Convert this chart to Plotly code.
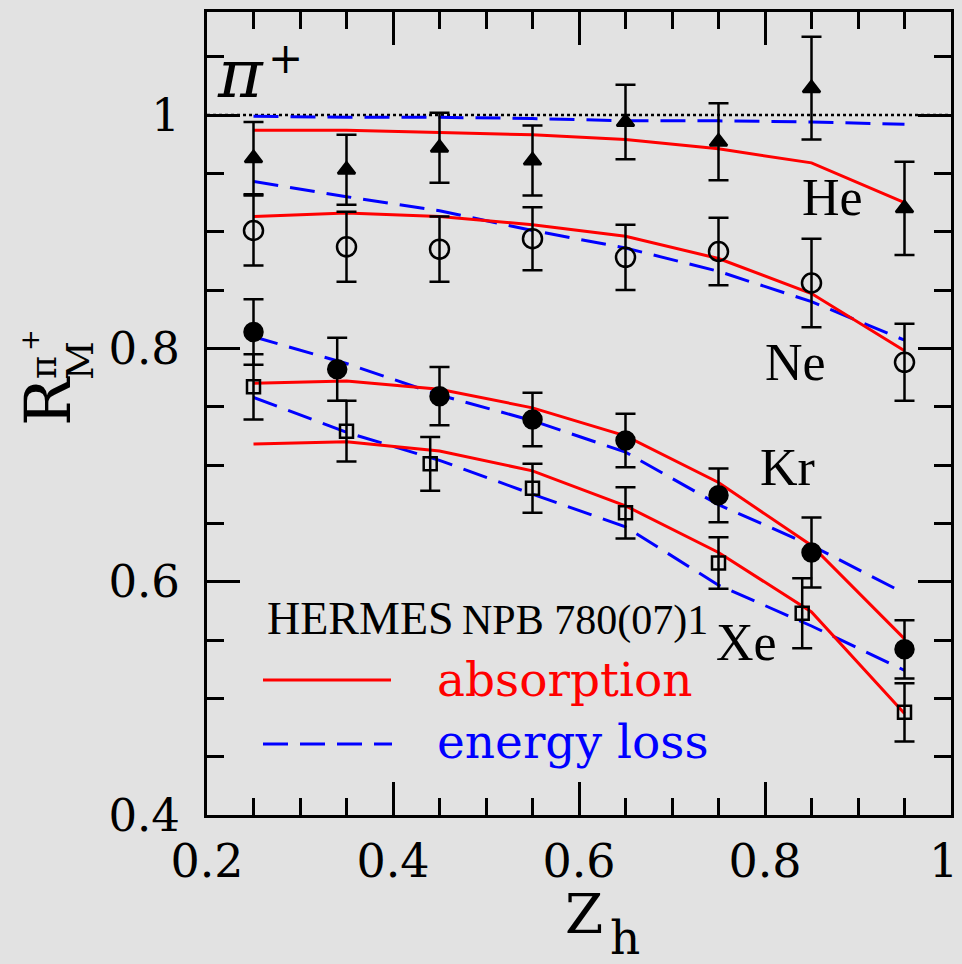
import plotly.graph_objects as go

# ---------------- data ----------------
z_model = [0.25, 0.35, 0.45, 0.55, 0.65, 0.75, 0.85, 0.95]

z_he = [0.25, 0.35, 0.45, 0.55, 0.65, 0.75, 0.85, 0.95]
r_he = [0.963, 0.953, 0.972, 0.961, 0.994, 0.977, 1.023, 0.920]
e_he = [0.031, 0.030, 0.030, 0.030, 0.032, 0.033, 0.044, 0.040]

z_ne = [0.25, 0.35, 0.45, 0.55, 0.65, 0.75, 0.85, 0.95]
r_ne = [0.901, 0.887, 0.885, 0.894, 0.878, 0.883, 0.856, 0.788]
e_ne = [0.030, 0.030, 0.028, 0.027, 0.028, 0.029, 0.038, 0.033]

z_kr = [0.25, 0.34, 0.45, 0.55, 0.65, 0.75, 0.85, 0.95]
r_kr = [0.814, 0.782, 0.759, 0.739, 0.721, 0.674, 0.625, 0.542]
e_kr = [0.028, 0.027, 0.025, 0.023, 0.023, 0.023, 0.030, 0.025]

z_xe = [0.25, 0.35, 0.44, 0.55, 0.65, 0.75, 0.84, 0.95]
r_xe = [0.767, 0.729, 0.701, 0.680, 0.659, 0.616, 0.573, 0.488]
e_xe = [0.028, 0.026, 0.023, 0.021, 0.022, 0.022, 0.030, 0.025]

he_abs = [0.987, 0.987, 0.985, 0.983, 0.979, 0.971, 0.959, 0.925]
he_el = [0.999, 0.998, 0.998, 0.997, 0.995, 0.995, 0.994, 0.992]
ne_abs = [0.913, 0.916, 0.913, 0.906, 0.896, 0.877, 0.847, 0.798]
ne_el = [0.943, 0.930, 0.918, 0.901, 0.886, 0.866, 0.840, 0.807]
kr_abs = [0.770, 0.772, 0.765, 0.749, 0.725, 0.685, 0.631, 0.551]
kr_el = [0.810, 0.787, 0.760, 0.738, 0.711, 0.666, 0.631, 0.590]
xe_abs = [0.718, 0.720, 0.712, 0.695, 0.665, 0.625, 0.574, 0.487]
xe_el = [0.758, 0.728, 0.704, 0.675, 0.647, 0.597, 0.562, 0.524]

ref_x = [0.2, 1.0]
ref_y = [1.0, 1.0]

x_ticks = [0.2, 0.4, 0.6, 0.8, 1.0]
x_ticktext = ["0.2", "0.4", "0.6", "0.8", "1\u00a0"]
y_ticks = [0.4, 0.6, 0.8, 1.0]
y_ticktext = ["0.4", "0.6", "0.8", "1"]

# ---------------- figure ----------------
W, H = 962, 964
L, R, T, B = 207, 951, 12, 815

def px(xp):
    return (xp - L) / (R - L)

def py(yp):
    return (B - yp) / (B - T)

BG = "#e2e2e2"
RED = "#ff0000"
BLUE = "#0000ff"
DASH = "25px,12px"

fig = go.Figure()

fig.add_trace(go.Scatter(x=ref_x, y=ref_y, mode="lines",
                         line=dict(color="black", width=2.5, dash="dot"),
                         showlegend=False, hoverinfo="skip"))

for ya, ye in [(he_abs, he_el), (ne_abs, ne_el), (kr_abs, kr_el), (xe_abs, xe_el)]:
    fig.add_trace(go.Scatter(x=z_model, y=ye, mode="lines",
                             line=dict(color=BLUE, width=3, dash=DASH),
                             showlegend=False))
    fig.add_trace(go.Scatter(x=z_model, y=ya, mode="lines",
                             line=dict(color=RED, width=3),
                             showlegend=False))

def data_trace(x, y, e, symbol, size, fill):
    return go.Scatter(
        x=x, y=y, mode="markers",
        error_y=dict(type="data", array=e, visible=True, color="black",
                     thickness=2.5, width=10),
        marker=dict(symbol=symbol, size=size,
                    color="black" if fill else "rgba(0,0,0,0)",
                    line=dict(color="black", width=2.5)),
        showlegend=False)

fig.add_trace(data_trace(z_he, r_he, e_he, "triangle-up", 15, True))
fig.add_trace(data_trace(z_ne, r_ne, e_ne, "circle", 19, False))
fig.add_trace(data_trace(z_kr, r_kr, e_kr, "circle", 18, True))
fig.add_trace(data_trace(z_xe, r_xe, e_xe, "square", 13, False))

axis_common = dict(
    showline=True, linecolor="black", linewidth=3, mirror="ticks",
    ticks="inside", ticklen=33, tickwidth=3, tickcolor="black",
    showgrid=False, zeroline=False, ticklabeloverflow="allow",
    automargin=False,
    minor=dict(ticks="inside", ticklen=17, tickwidth=3, tickcolor="black",
               dtick=0.05, showgrid=False),
)

fig.update_xaxes(range=[0.2, 1.0], tickvals=x_ticks, ticktext=x_ticktext,
                 tickfont=dict(family="DejaVu Serif", size=46, color="black"),
                 ticklabelstandoff=4, **axis_common)
fig.update_yaxes(range=[0.4, 1.0883], tickvals=y_ticks, ticktext=y_ticktext,
                 tickfont=dict(family="DejaVu Serif", size=45, color="black"),
                 ticklabelstandoff=15, **axis_common)

ann = []

def add_text(text, xp, yp, size, color="black", family="DejaVu Serif",
             xanchor="center", angle=0, style="normal"):
    ann.append(dict(text=text, x=px(xp), y=py(yp), xref="paper", yref="paper",
                    showarrow=False, xanchor=xanchor, yanchor="middle",
                    textangle=angle,
                    font=dict(family=family, size=size, color=color, style=style)))

# in-plot labels
add_text("π", 240, 74, 68, style="italic")
add_text("+", 285, 58, 42)
add_text("He", 832, 197, 52, family="Liberation Serif")
add_text("Ne", 795, 362, 52, family="Liberation Serif")
add_text("Kr", 787, 467, 52, family="Liberation Serif")
add_text("Xe", 746, 642, 52, family="Liberation Serif")

# legend block
add_text("HERMES", 265, 618, 46, family="Liberation Serif", xanchor="left")
add_text("NPB 780(07)1", 460, 620, 42, family="Liberation Serif", xanchor="left")
add_text("absorption", 435, 679, 47, color=RED, xanchor="left")
add_text("energy loss", 435, 741, 47, color=BLUE, xanchor="left")

# axis titles
add_text("Z", 584, 914, 55)
add_text("h", 625, 937, 47)
add_text("R", 48, 401, 64, angle=-90)
add_text("M", 80, 361, 38, angle=-90)
add_text("π", 44, 368, 35, angle=-90)
add_text("+", 30, 340, 26, angle=-90)

shapes = [
    dict(type="line", xref="paper", yref="paper", x0=px(263), x1=px(391),
         y0=py(680), y1=py(680), line=dict(color=RED, width=3)),
    dict(type="line", xref="paper", yref="paper", x0=px(263), x1=px(392),
         y0=py(744), y1=py(744), line=dict(color=BLUE, width=3, dash=DASH)),
]

fig.update_layout(
    width=W, height=H,
    margin=dict(l=L, r=W - R, t=T, b=H - B, pad=0, autoexpand=False),
    paper_bgcolor=BG, plot_bgcolor=BG,
    annotations=ann, shapes=shapes,
    showlegend=False,
)

fig.write_html("out.html", config={"displayModeBar": False},
               post_script="document.body.style.margin='0';document.body.style.overflow='hidden';")
